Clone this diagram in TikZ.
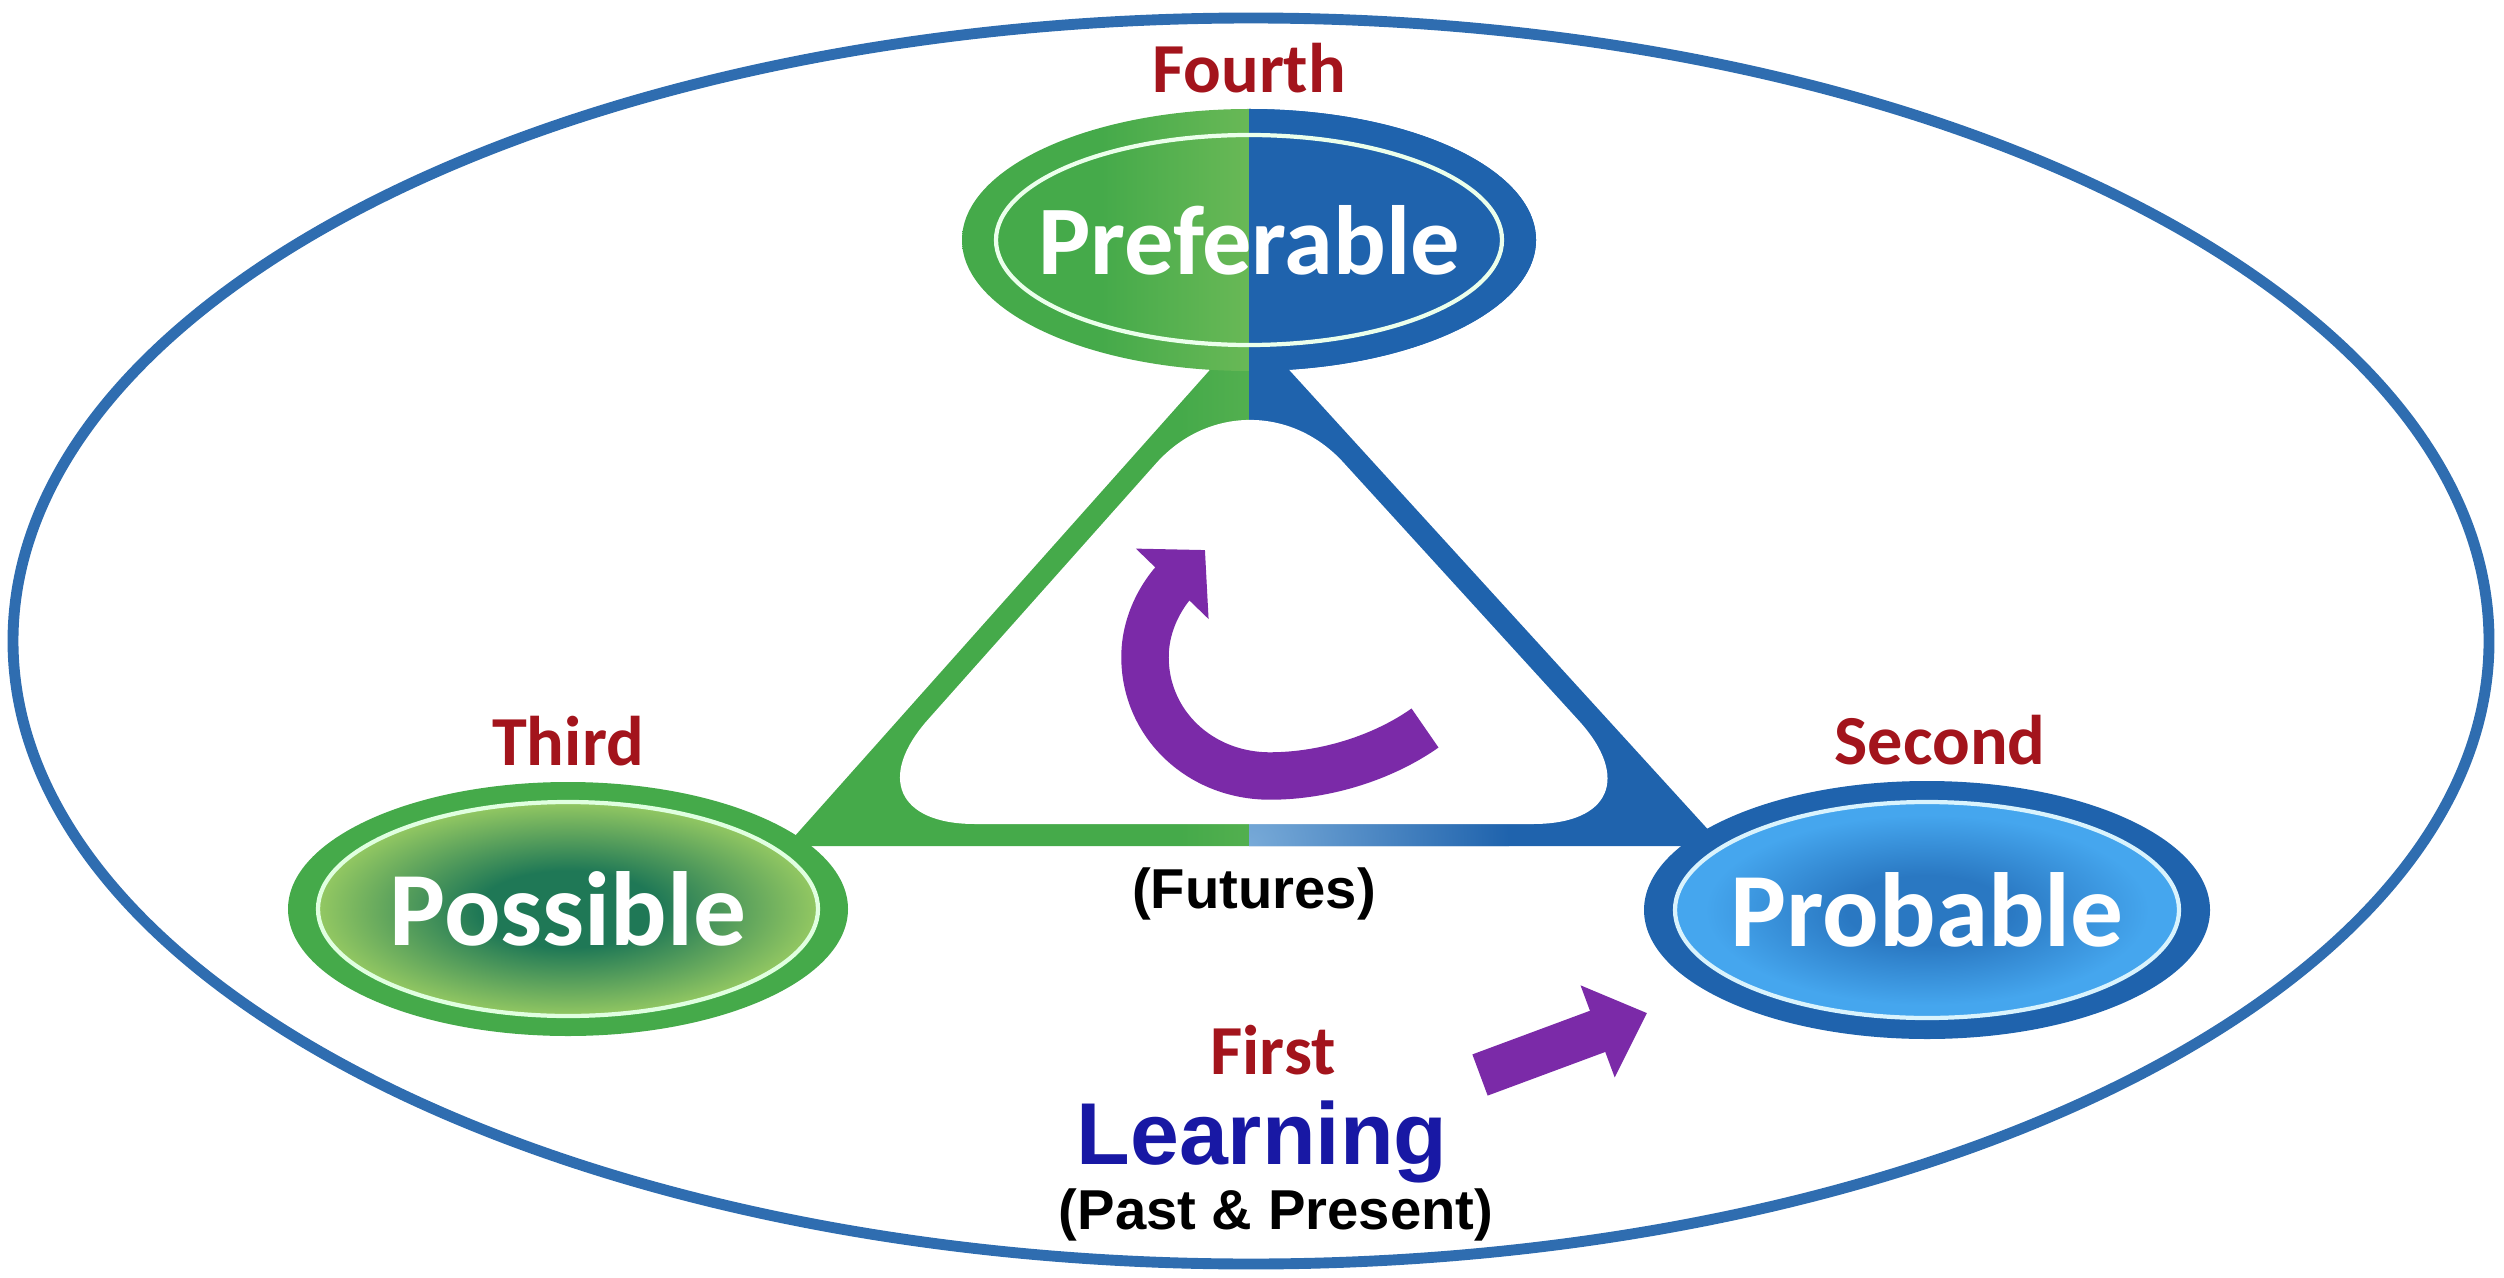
\documentclass[tikz,border=0pt]{standalone}
\usepackage{fontspec}
\setmainfont{Carlito}
\newfontfamily\arialbf{Liberation Sans}
\usepackage{tikz}
\usetikzlibrary{arrows.meta,positioning,shapes.geometric}

\definecolor{rimblue}{HTML}{2F6DB0}
\definecolor{leafgreen}{HTML}{45AA4A}
\definecolor{limegreen}{HTML}{A3D06A}
\definecolor{deepblue}{HTML}{1F63AD}
\definecolor{skyblue}{HTML}{78AAD8}
\definecolor{rankred}{HTML}{A3141C}
\definecolor{cyclepurple}{HTML}{7B2AA8}
\definecolor{learnblue}{HTML}{1818A4}
\definecolor{mossgreen}{HTML}{1F7856}
\definecolor{palegreen}{HTML}{93C862}
\definecolor{brightblue}{HTML}{45A6EE}
\definecolor{midblue}{HTML}{2A78C2}

\pgfdeclarehorizontalshading{greenside}{100bp}{color(0bp)=(leafgreen); color(25bp)=(leafgreen);
  color(46bp)=(leafgreen); color(72bp)=(limegreen); color(100bp)=(limegreen)}
\pgfdeclareradialshading{mossfill}{\pgfpoint{0bp}{0bp}}{color(0bp)=(mossgreen); color(9bp)=(mossgreen);
  color(25bp)=(palegreen); color(50bp)=(palegreen)}
\pgfdeclareradialshading{skyfill}{\pgfpoint{0bp}{0bp}}{color(0bp)=(midblue); color(8bp)=(midblue);
  color(22bp)=(brightblue); color(50bp)=(brightblue)}

\begin{document}
\begin{tikzpicture}[x=0.1mm,y=-0.1mm,
                    ordinal/.style={font=\bfseries\fontsize{20}{24}\selectfont,text=rankred,inner sep=0pt},
                    bigname/.style={font=\bfseries\fontsize{30}{34}\selectfont,text=white,inner sep=0pt},
                    paren/.style={font=\arialbf\bfseries\fontsize{16}{19}\selectfont,inner sep=0pt}]
  \tikzstyle{ring}=[ellipse,inner sep=0pt]
  \tikzstyle{fat arrow}=[cyclepurple,-{Triangle[length=13.4pt,width=28pt]}]
  \tikzstyle{halves}=[path picture={
      \shade[shading=greenside] (786,100) rectangle (1249,900);
      \begin{scope}
        \clip (1249,100) rectangle (1723,900);
        \fill[deepblue] (1249,100) rectangle (1723,900);
        \shade[inner color=skyblue,outer color=deepblue] (1249,846) circle [radius=260];
      \end{scope}}]

  \useasboundingbox (0,0) rectangle (2504,1278);

  % outer frame
  \draw[rimblue,line width=3.1pt] (1251,641) ellipse [x radius=1238,y radius=623];

  % triangle, green half and blue half
  \coordinate (Top) at (1249,326);
  \coordinate (Lft) at (786,846);
  \coordinate (Rgt) at (1723,846);
  \path[halves] (Top) -- (Lft) -- (Rgt) -- cycle;
  \fill[white,rounded corners=14mm] (1249,359) -- (835,824) -- (1673,824) -- cycle;

  % the three futures
  \node[ring,minimum width=57.4mm,minimum height=26.2mm] (Pref) at (1249,240) {};
  \path[halves] (Pref.center) ellipse [x radius=287,y radius=131];
  \fill[deepblue] (Pref.center) ++(0,-131) arc [start angle=-90,end angle=90,x radius=287,y radius=131] -- cycle;
  \node[ring,draw=white!92!green,line width=1.2pt,minimum width=50.6mm,minimum height=21mm] (PrefIn) at (Pref) {};
  \node[bigname,font=\bfseries\fontsize{28}{32}\selectfont] (PrefTxt) at (Pref) {Preferable};

  \node[ring,fill=leafgreen,minimum width=56mm,minimum height=25.4mm] (Poss) at (568,909) {};
  \node[ring,shading=mossfill,draw=green!12,line width=1.2pt,
        minimum width=50mm,minimum height=21.4mm] (PossIn) at (Poss) {};
  \node[bigname] (PossTxt) at (Poss) {Possible};

  \node[ring,fill=deepblue,minimum width=56.6mm,minimum height=25.8mm] (Prob) at (1927,910) {};
  \node[ring,shading=skyfill,draw=cyan!15,line width=1.2pt,
        minimum width=50.4mm,minimum height=21.6mm] (ProbIn) at (Prob) {};
  \node[bigname] (ProbTxt) at (Prob) {Probable};

  % order labels
  \node[ordinal] (Fourth) [above=1.5mm of Pref] {Fourth};
  \node[ordinal] (Third)  [above=1.5mm of Poss] {Third};
  \node[ordinal] (Second) [above=1.5mm of Prob,xshift=1.3mm] {Second};

  \node[paren] (Fut) at (1254,894) {(Futures)};
  \node[inner sep=0pt,font=\arialbf\bfseries\fontsize{25}{30}\selectfont,text=learnblue] (Learn) at (1262,1142) {Learning};
  \node[ordinal] (First) [above=2.4mm of Learn,xshift=1.1mm] {First};
  \node[paren] (Past) [below=0.4mm of Learn,xshift=1.4mm] {(Past \& Present)};

  % cycle arrow in the middle
  \coordinate (CycTail) at (1425,728);
  \coordinate (CycTip)  at (1205,550);
  \draw[fat arrow,line width=13.5pt]
    (CycTail) .. controls (1384,757) and (1326,776) .. (1270,776)
              .. controls (1200,776) and (1145,724) .. (1145,657)
              .. controls (1145,612) and (1174,582) .. (CycTip);

  % learning leads to probable
  \coordinate (FirstTail) at (1480,1075);
  \coordinate (FirstTip)  at (1647,1013);
  \draw[fat arrow,line width=12.5pt,-{Triangle[length=15pt,width=27pt]}] (FirstTail) -- (FirstTip);
\end{tikzpicture}
\end{document}
